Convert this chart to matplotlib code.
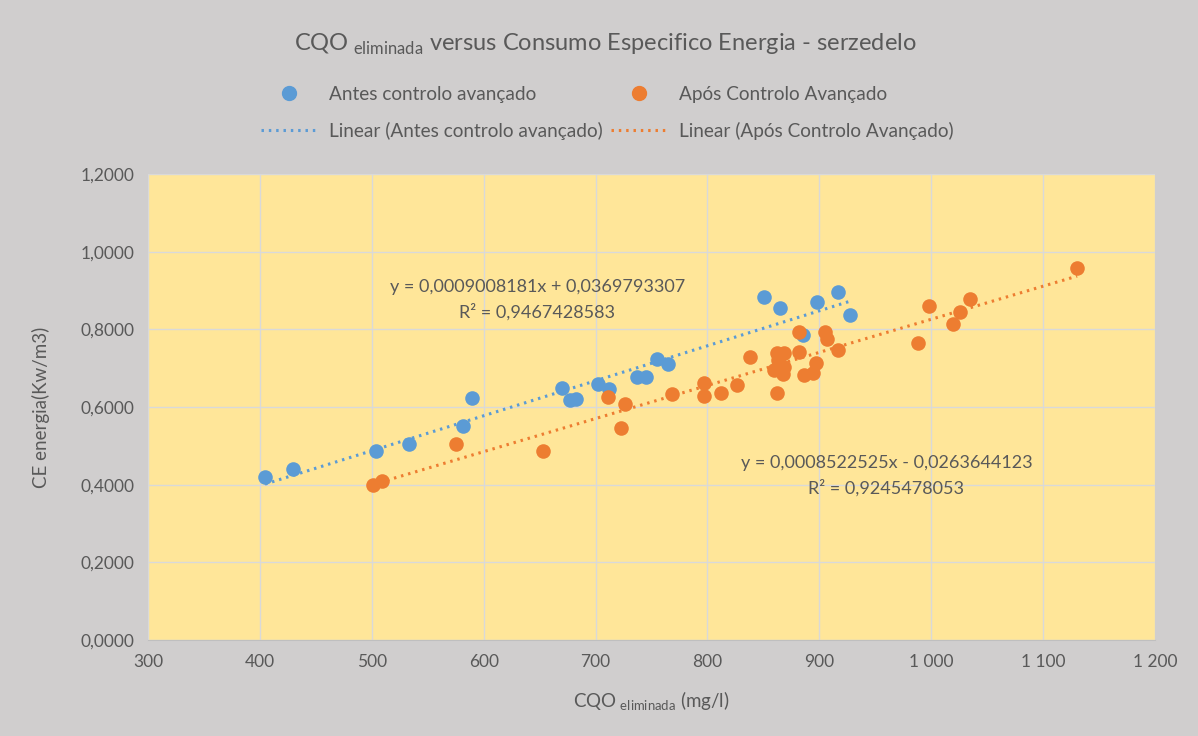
import numpy as np
import matplotlib
matplotlib.use('Agg')
import matplotlib.pyplot as plt
from matplotlib.ticker import FuncFormatter, MultipleLocator
from matplotlib.lines import Line2D

plt.rcParams['font.family'] = ['Lato', 'DejaVu Sans']
plt.rcParams['mathtext.fontset'] = 'custom'
plt.rcParams['mathtext.rm'] = 'Lato'

# Antes controlo avançado
antes_x = [404.6, 429.6, 503.8, 533, 581.5, 589.5, 670, 677, 682.5, 702, 712,
           737, 745, 755, 764.7, 850.5, 864.8, 885.3, 898, 916.6, 927]
antes_y = [0.420, 0.440, 0.486, 0.504, 0.551, 0.623, 0.649, 0.618, 0.620, 0.659, 0.646,
           0.677, 0.677, 0.723, 0.710, 0.883, 0.855, 0.785, 0.870, 0.896, 0.837]

# Após Controlo Avançado
apos_x = [501, 509, 575, 653, 711, 722.7, 726, 768, 797, 797, 811.7, 826.8, 838,
          861.8, 861.8, 868.3, 859.5, 868.8, 867.5, 862.7, 882, 882, 886, 894,
          896.6, 905.3, 907, 916.6, 988, 998, 1019.6, 1025.7, 1034.5, 1130.4]
apos_y = [0.399, 0.409, 0.504, 0.486, 0.625, 0.546, 0.607, 0.633, 0.661, 0.628, 0.637, 0.656, 0.728,
          0.635, 0.738, 0.738, 0.695, 0.702, 0.685, 0.721, 0.742, 0.794, 0.682, 0.688,
          0.714, 0.794, 0.774, 0.748, 0.764, 0.861, 0.813, 0.845, 0.877, 0.959]

# trendline coefficients (from the chart)
antes_slope, antes_icpt, antes_r2 = 0.0009008181, 0.0369793307, 0.9467428583
apos_slope, apos_icpt, apos_r2 = 0.0008522525, -0.0263644123, 0.9245478053

blue = '#5b9bd5'
orange = '#ed7d31'
txt = '#595959'
bg = '#d0cece'

fig = plt.figure(figsize=(11.98, 7.36), dpi=100, facecolor=bg)
ax = fig.add_axes([148 / 1198, 1 - 640 / 736, (1155 - 148) / 1198, (640 - 174) / 736])
ax.set_facecolor('#ffe699')

ax.scatter(antes_x, antes_y, s=110, color=blue, zorder=3, linewidths=0)
ax.scatter(apos_x, apos_y, s=110, color=orange, zorder=3, linewidths=0)

xa = np.array([min(antes_x), max(antes_x)])
ax.plot(xa, antes_slope * xa + antes_icpt, color=blue, lw=2.2, ls=(0, (0.8, 1.6)), zorder=4)
xo = np.array([min(apos_x), max(apos_x)])
ax.plot(xo, apos_slope * xo + apos_icpt, color=orange, lw=2.2, ls=(0, (0.8, 1.6)), zorder=4)

def fmt(v):
    return ('%.10f' % v).replace('.', ',')

ax.text(648, 0.909, 'y = %sx + %s' % (fmt(antes_slope), fmt(antes_icpt)),
        ha='center', va='center', fontsize=13, color=txt)
ax.text(648, 0.844, 'R² = %s' % fmt(antes_r2), ha='center', va='center', fontsize=13, color=txt)
ax.text(960, 0.457, 'y = %sx - %s' % (fmt(apos_slope), fmt(-apos_icpt)),
        ha='center', va='center', fontsize=13, color=txt)
ax.text(960, 0.391, 'R² = %s' % fmt(apos_r2), ha='center', va='center', fontsize=13, color=txt)

ax.set_xlim(300, 1200)
ax.set_ylim(0, 1.2)
ax.xaxis.set_major_locator(MultipleLocator(100))
ax.yaxis.set_major_locator(MultipleLocator(0.2))
ax.xaxis.set_major_formatter(FuncFormatter(lambda v, p: '{:,.0f}'.format(v).replace(',', ' ')))
ax.yaxis.set_major_formatter(FuncFormatter(lambda v, p: ('%.4f' % v).replace('.', ',')))
ax.grid(True, color='#d9d9d9', lw=1)
ax.set_axisbelow(True)
for s in ['top', 'right', 'left']:
    ax.spines[s].set_visible(False)
ax.spines['bottom'].set_color('#bfbfbf')
ax.tick_params(length=0, labelsize=12.5, colors=txt, pad=10)

ax.set_xlabel(r'CQO$_{\mathrm{\ eliminada}}$ (mg/l)', fontsize=13.5, color=txt, labelpad=14)
ax.set_ylabel('CE energia(Kw/m3)', fontsize=13.5, color=txt, labelpad=22)

fig.text(0.505, 1 - 44 / 736, r'CQO$_{\mathrm{\ eliminada}}$ versus Consumo Especifico Energia - serzedelo',
         ha='center', va='center', fontsize=17, color=txt)

handles = [
    Line2D([], [], marker='o', ls='none', color=blue, markersize=10),
    Line2D([], [], color=blue, lw=2.2, ls=(0, (0.8, 1.6))),
    Line2D([], [], marker='o', ls='none', color=orange, markersize=10),
    Line2D([], [], color=orange, lw=2.2, ls=(0, (0.8, 1.6))),
]
labels = ['Antes controlo avançado', 'Linear (Antes controlo avançado)',
          'Após Controlo Avançado', 'Linear (Após Controlo Avançado)']
fig.legend(handles, labels, ncol=2, loc='center', bbox_to_anchor=(0.507, 1 - 113 / 736),
           frameon=False, fontsize=13.7, labelcolor=txt, handlelength=3, columnspacing=0.4,
           labelspacing=1.0, handletextpad=0.6)

fig.savefig('out.png', dpi=100, facecolor=bg)
